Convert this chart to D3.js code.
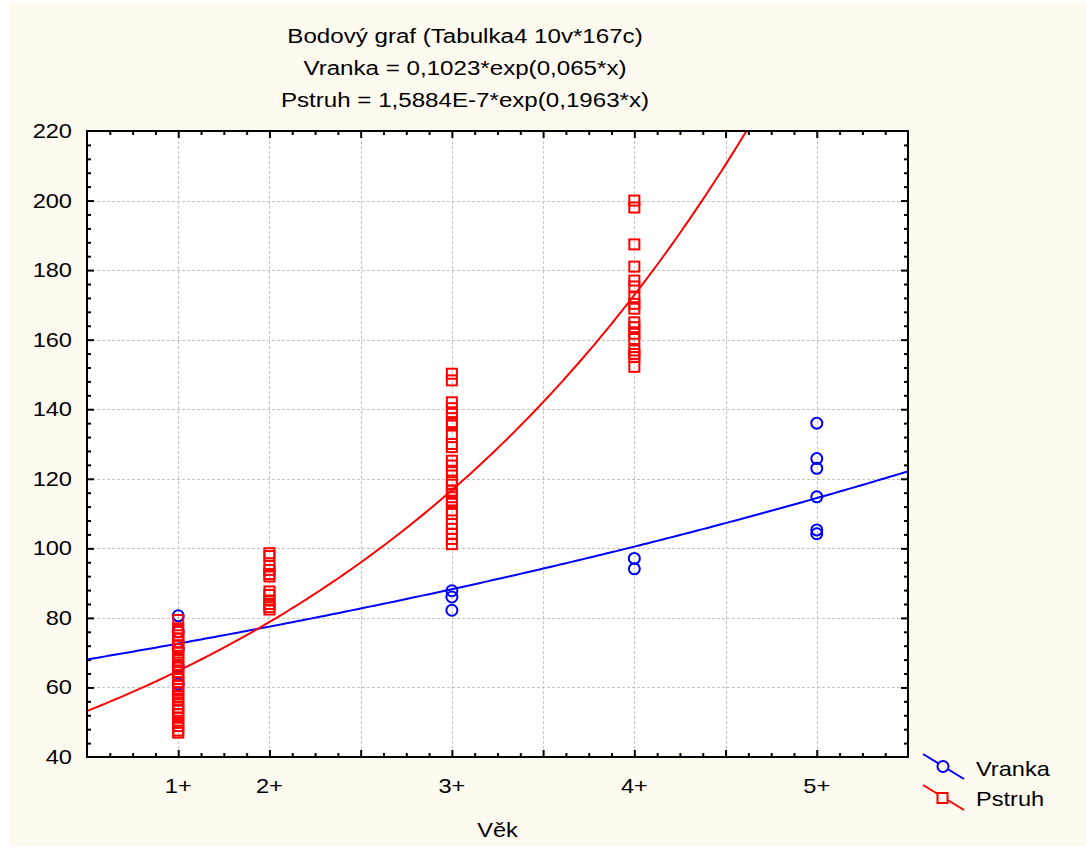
<!DOCTYPE html>
<html>
<head>
<meta charset="utf-8">
<script src="https://cdn.jsdelivr.net/npm/d3@7"></script>
<style>
  body { margin: 0; background: #fff; }
  text { font-family: "Liberation Sans", Arial, sans-serif; fill: #000; }
</style>
</head>
<body>
<div id="graf"></div>
<script>
// vek (x hodnoty) a popisky
const vekHodnoty = [101, 102, 104, 106, 108];
const vekPopisky = ["1+", "2+", "3+", "4+", "5+"];

// Vranka - delka podle veku
const vranka1 = [80.6, 76, 71, 66, 61];
const vranka3 = [87.8, 86.0, 82.2];
const vranka4 = [97.1, 94.1];
const vranka5 = [136.0, 125.8, 123.0, 114.8, 105.3, 104.2];

// Pstruh - delka podle veku
const pstruh1 = [79.4, 77, 76, 75, 74, 73, 72, 71, 70, 68.7, 67.8, 66.5, 65.7, 64.4, 63.4,
  62.4, 61.5, 60.5, 59.6, 58.6, 57.4, 56.4, 55.2, 54.2, 53.3, 52.3, 51.3, 49.9, 48.9, 47.6, 47.0];
const pstruh2 = [98.6, 97.8, 95.0, 93.8, 92.6, 91.9, 87.6, 86.6, 85.0, 84.0, 83.1, 82.4];
const pstruh3 = [150.2, 148.3, 142.0, 140.3, 138.7, 136.3, 135.3, 132.9, 130.0, 129.1, 125.2,
  123.8, 121.9, 119.5, 118.3, 116.6, 115.7, 114.7, 113.3, 110.9, 109.9, 107.0, 105.6, 104.2, 102.7, 101.2];
const pstruh4 = [200.0, 198.0, 187.4, 181.0, 177.0, 175.3, 172.2, 170.3, 168.9, 165.0, 163.6,
  161.7, 160.2, 156.9, 155.9, 155.0, 152.2];

// koeficienty exponencialni regrese  y = a*exp(b*x)
const vrankaFit = [0.1023, 0.065];
const pstruhFit = [1.5884E-7, 0.1963];

const titulky = ["Bodový graf (Tabulka4 10v*167c)",
  "Vranka = 0,1023*exp(0,065*x)",
  "Pstruh = 1,5884E-7*exp(0,1963*x)"];

const width = 1086, height = 848;
const margin = { top: 131, right: 178, bottom: 91, left: 87 };
const plotW = width - margin.left - margin.right;
const plotH = height - margin.top - margin.bottom;

const svg = d3.select("#graf").append("svg")
  .attr("width", width).attr("height", height);

// text roztazeny do sirky jako v originale
function txt(parent, tx, ty, s, size, sx, anchor) {
  return parent.append("text")
    .attr("transform", `translate(${tx},${ty}) scale(${sx},1)`)
    .attr("text-anchor", anchor).attr("font-size", size).text(s);
}

// pozadi
svg.append("rect").attr("x", 10).attr("y", 3).attr("width", width - 10).attr("height", 843)
  .attr("fill", "#fffaf0");

const x = d3.scaleLinear().domain([100, 109]).range([margin.left, margin.left + plotW]);
const y = d3.scaleLinear().domain([40, 220]).range([margin.top + plotH, margin.top]);

svg.append("rect").attr("x", margin.left).attr("y", margin.top)
  .attr("width", plotW).attr("height", plotH).attr("fill", "#fff");

// mrizka
const grid = svg.append("g").attr("stroke", "#c4c4c4").attr("stroke-width", 1)
  .attr("stroke-dasharray", "3,2");
grid.selectAll(".gx").data(d3.range(101, 109)).join("line")
  .attr("x1", d => Math.round(x(d)) + 0.5).attr("x2", d => Math.round(x(d)) + 0.5)
  .attr("y1", margin.top).attr("y2", margin.top + plotH);
grid.selectAll(".gy").data(d3.range(60, 220, 20)).join("line")
  .attr("y1", d => Math.round(y(d)) + 0.5).attr("y2", d => Math.round(y(d)) + 0.5)
  .attr("x1", margin.left).attr("x2", margin.left + plotW);

// osy s vnitrnimi carkami
const minorX = d3.range(100, 109.01, 0.25).filter(d => Math.abs(d - Math.round(d)) > 0.01);
const minorY = d3.range(40, 220.01, 4).filter(d => d % 20 !== 0);

function axisGroup(axis, tx, ty) {
  svg.append("g").attr("transform", `translate(${tx},${ty})`).call(axis)
    .call(g => g.select(".domain").remove())
    .call(g => g.selectAll("line").attr("stroke", "#000").attr("stroke-width", 2))
    .call(g => g.selectAll("text").remove());
}
const bottomY = margin.top + plotH, rightX = margin.left + plotW;
axisGroup(d3.axisBottom(x).tickValues(d3.range(101, 109)).tickSize(-7), 0, bottomY);
axisGroup(d3.axisBottom(x).tickValues(minorX).tickSize(-4), 0, bottomY);
axisGroup(d3.axisTop(x).tickValues(d3.range(101, 109)).tickSize(-7), 0, margin.top);
axisGroup(d3.axisTop(x).tickValues(minorX).tickSize(-4), 0, margin.top);
axisGroup(d3.axisLeft(y).tickValues(d3.range(60, 220, 20)).tickSize(-7), margin.left, 0);
axisGroup(d3.axisLeft(y).tickValues(minorY).tickSize(-4), margin.left, 0);
axisGroup(d3.axisRight(y).tickValues(d3.range(60, 220, 20)).tickSize(-7), rightX, 0);
axisGroup(d3.axisRight(y).tickValues(minorY).tickSize(-4), rightX, 0);

// popisky os
const yLab = svg.append("g");
d3.range(40, 221, 20).forEach(d => txt(yLab, 72, y(d) + 7, d, 20, 1.18, "end"));
const xLab = svg.append("g");
vekHodnoty.forEach((d, i) => txt(xLab, x(d), 793, vekPopisky[i], 20, 1.18, "middle"));
txt(svg, margin.left + plotW / 2, 837, "Věk", 20, 1.18, "middle");

// titulek
const tit = svg.append("g");
titulky.forEach((d, i) => txt(tit, 465, 43 + i * 32, d, 21, 1.15, "middle"));

// body
const vrankaSkupiny = [[101, vranka1], [104, vranka3], [106, vranka4], [108, vranka5]];
const pstruhSkupiny = [[101, pstruh1], [102, pstruh2], [104, pstruh3], [106, pstruh4]];
const vrankaBody = vrankaSkupiny.flatMap(([v, arr]) => arr.map(d => ({ v, d })));
const pstruhBody = pstruhSkupiny.flatMap(([v, arr]) => arr.map(d => ({ v, d })));

svg.append("clipPath").attr("id", "clip").append("rect")
  .attr("x", margin.left).attr("y", margin.top).attr("width", plotW).attr("height", plotH);

const line = d3.line().x(d => x(d[0])).y(d => y(d[1]));
const xs = d3.range(100, 109.001, 0.05);
svg.append("path").attr("clip-path", "url(#clip)")
  .datum(xs.map(v => [v, vrankaFit[0] * Math.exp(vrankaFit[1] * v)]))
  .attr("d", line).attr("fill", "none").attr("stroke", "#0000ff").attr("stroke-width", 2);
svg.append("path").attr("clip-path", "url(#clip)")
  .datum(xs.map(v => [v, pstruhFit[0] * Math.exp(pstruhFit[1] * v)]))
  .attr("d", line).attr("fill", "none").attr("stroke", "#ff0000").attr("stroke-width", 2);

svg.append("g").selectAll("circle").data(vrankaBody).join("circle")
  .attr("cx", d => x(d.v)).attr("cy", d => y(d.d)).attr("r", 5.5)
  .attr("fill", "none").attr("stroke", "#0000ff").attr("stroke-width", 2);
svg.append("g").selectAll("rect").data(pstruhBody).join("rect")
  .attr("x", d => x(d.v) - 5).attr("y", d => y(d.d) - 5).attr("width", 10).attr("height", 10)
  .attr("fill", "none").attr("stroke", "#ff0000").attr("stroke-width", 2);

// ramecek
svg.append("rect").attr("x", margin.left).attr("y", margin.top)
  .attr("width", plotW).attr("height", plotH)
  .attr("fill", "none").attr("stroke", "#000").attr("stroke-width", 2);

// legenda
const leg = svg.append("g");
leg.append("line").attr("x1", 923).attr("y1", 754).attr("x2", 964).attr("y2", 779)
  .attr("stroke", "#0000ff").attr("stroke-width", 2);
leg.append("circle").attr("cx", 943).attr("cy", 766.5).attr("r", 5.5)
  .attr("fill", "#fffaf0").attr("stroke", "#0000ff").attr("stroke-width", 2);
txt(leg, 976, 776, "Vranka", 20, 1.18, "start");
leg.append("line").attr("x1", 923).attr("y1", 785).attr("x2", 964).attr("y2", 810)
  .attr("stroke", "#ff0000").attr("stroke-width", 2);
leg.append("rect").attr("x", 937.5).attr("y", 793).attr("width", 10).attr("height", 10)
  .attr("fill", "#fffaf0").attr("stroke", "#ff0000").attr("stroke-width", 2);
txt(leg, 976, 806, "Pstruh", 20, 1.18, "start");
</script>
</body>
</html>
